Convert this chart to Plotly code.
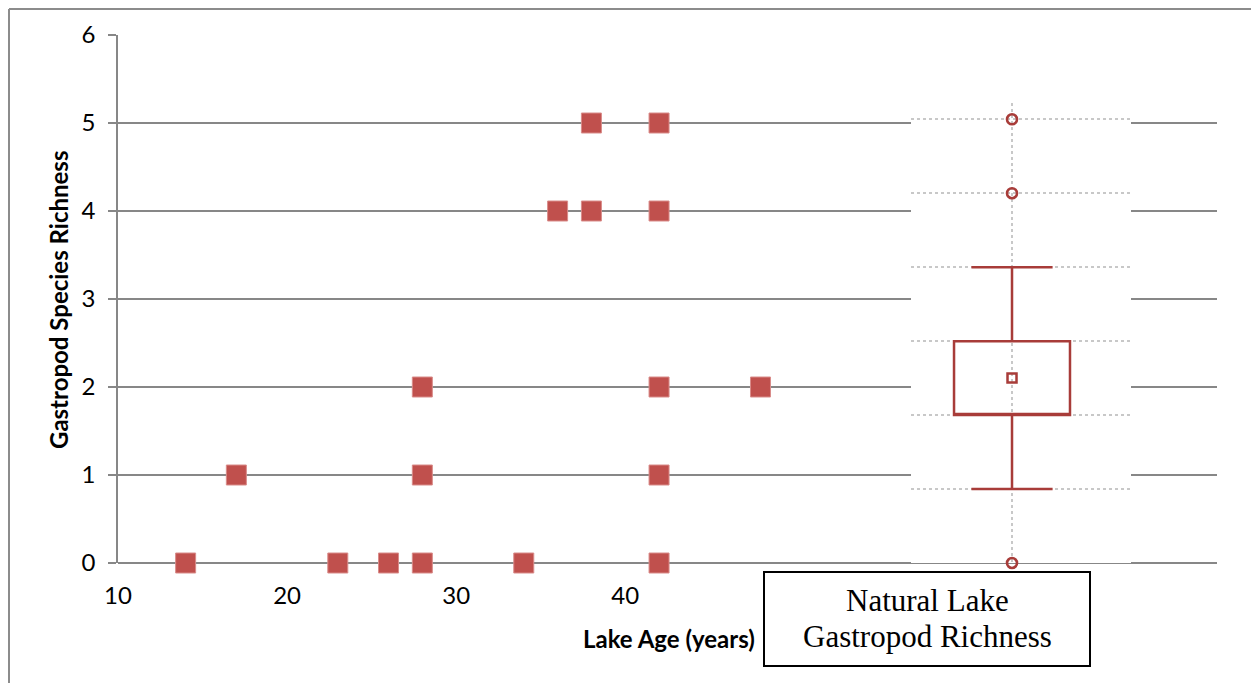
import plotly.graph_objects as go

# Scatter data: lake age (years) vs gastropod species richness
lake_age = [14, 17, 23, 26, 28, 28, 28, 34, 36, 38, 38, 42, 42, 42, 42, 42, 48]
richness = [0, 1, 0, 0, 0, 1, 2, 0, 4, 4, 5, 0, 1, 2, 4, 5, 2]

# Natural lake box plot summary
box_lower = [1]
box_q1 = [2]
box_median = [2]
box_q3 = [3]
box_upper = [4]
box_mean = [2.5]
box_outliers = [0, 5, 6]

x_tick_vals = [10, 20, 30, 40]
y_tick_vals = [0, 1, 2, 3, 4, 5, 6]

RED = "#C0504D"
DARK = "#A83C39"
GRID = "#878787"

# page is offset by the 8px body margin
O = 8
W, H = 1259 - O, 683 - O
L, R, T, B = 118 - O, 42, 35 - O, 120
PW, PH = W - L - R, H - T - B

def px_x(p):
    # p: x pixel in the reference picture
    return (p - O - L) / PW

def px_y(p):
    # p: y pixel in the reference picture
    return (H - B - (p - O)) / PH

fig = go.Figure()

fig.add_trace(go.Scatter(
    x=lake_age, y=richness, mode="markers",
    marker=dict(symbol="square", size=20, color=RED, line=dict(color="#D98C8A", width=1)),
    xaxis="x", yaxis="y", showlegend=False, cliponaxis=False,
))

fig.add_trace(go.Box(
    x=[0], q1=box_q1, median=box_median, q3=box_q3,
    lowerfence=box_lower, upperfence=box_upper,
    width=1.148, whiskerwidth=0.70,
    line=dict(color=DARK, width=2.5), fillcolor="rgba(255,255,255,0)",
    boxpoints=False, xaxis="x2", yaxis="y2", showlegend=False,
))

fig.add_trace(go.Scatter(
    x=[0] * len(box_mean), y=box_mean, mode="markers",
    marker=dict(symbol="square-open", size=9, color=DARK, line=dict(width=2.5)),
    xaxis="x2", yaxis="y2", showlegend=False, cliponaxis=False,
))

fig.add_trace(go.Scatter(
    x=[0] * len(box_outliers), y=box_outliers, mode="markers",
    marker=dict(symbol="circle-open", size=10, color=DARK, line=dict(width=2.6)),
    xaxis="x2", yaxis="y2", showlegend=False, cliponaxis=False,
))

tick_font = dict(family="Lato", size=24, color="#000000")
title_font = dict(family="Lato", size=24, color="#000000")
serif_font = dict(family="Liberation Serif", size=31, color="#000000")

fig.update_layout(
    width=W, height=H,
    margin=dict(l=L, r=R, t=T, b=B),
    paper_bgcolor="white", plot_bgcolor="white",
    xaxis=dict(
        domain=[0, 1], range=[10, 75], tickvals=x_tick_vals,
        showgrid=False, zeroline=False, showline=False, ticks="",
        tickfont=tick_font, ticklabelstandoff=16,
    ),
    yaxis=dict(
        domain=[0, 1], range=[0, 6], tickvals=y_tick_vals,
        showgrid=True, gridcolor=GRID, gridwidth=1.8,
        zeroline=True, zerolinecolor=GRID, zerolinewidth=1.8,
        showline=True, linecolor=GRID, linewidth=1.8,
        ticks="outside", ticklen=8, tickcolor=GRID, tickwidth=1.8,
        tickfont=tick_font, ticklabelstandoff=8,
    ),
    xaxis2=dict(
        domain=[px_x(911), px_x(1131)], range=[-1.0, 1.178], anchor="y2",
        tickvals=[0], showticklabels=False, ticks="",
        showgrid=True, gridcolor="#C8C8C8", gridwidth=1.5, griddash="dot",
        zeroline=False, showline=False,
    ),
    yaxis2=dict(
        domain=[0, px_y(103)], range=[0, 6.22], anchor="x2",
        tickvals=y_tick_vals, showticklabels=False, ticks="",
        showgrid=True, gridcolor="#C8C8C8", gridwidth=1.5, griddash="dot",
        zeroline=False, showline=False,
    ),
    shapes=[
        dict(type="line", xref="paper", yref="paper",
             x0=px_x(9), x1=px_x(9), y0=px_y(9), y1=px_y(683),
             line=dict(color="#8C8C8C", width=2)),
        dict(type="line", xref="paper", yref="paper",
             x0=px_x(9), x1=px_x(1259), y0=px_y(9), y1=px_y(9),
             line=dict(color="#8C8C8C", width=2)),
        dict(type="rect", xref="paper", yref="paper", layer="above",
             x0=px_x(764), x1=px_x(1090), y0=px_y(572), y1=px_y(666),
             fillcolor="white", line=dict(color="#000000", width=2)),
    ],
    annotations=[
        dict(text="<b>Gastropod Species Richness</b>", xref="paper", yref="paper",
             x=px_x(58), y=px_y(300), textangle=-90, showarrow=False,
             xanchor="center", yanchor="middle", font=title_font),
        dict(text="<b>Lake Age (years)</b>", xref="paper", yref="paper",
             x=px_x(757), y=px_y(638), showarrow=False,
             xanchor="right", yanchor="middle", font=title_font),
        dict(text="Natural Lake", xref="paper", yref="paper",
             x=px_x(927), y=px_y(600), showarrow=False,
             xanchor="center", yanchor="middle", font=serif_font),
        dict(text="Gastropod Richness", xref="paper", yref="paper",
             x=px_x(927), y=px_y(636), showarrow=False,
             xanchor="center", yanchor="middle", font=serif_font),
    ],
)

fig.write_html("out.html")
